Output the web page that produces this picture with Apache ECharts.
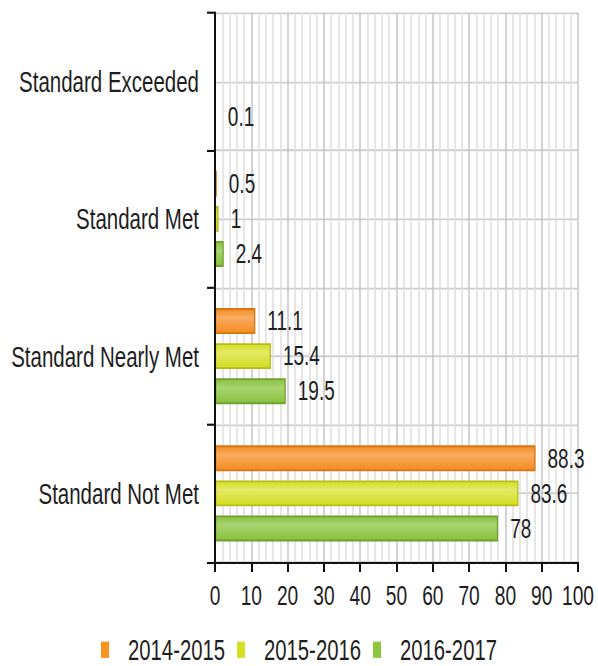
<!DOCTYPE html>
<html>
<head>
<meta charset="utf-8">
<script src="https://cdn.jsdelivr.net/npm/echarts@6/dist/echarts.min.js"></script>
<style>
  html, body { margin: 0; padding: 0; background: #fff; width: 598px; height: 666px; }
  #frame { position: relative; width: 598px; height: 666px; }
  /* the chart is laid out on a shorter canvas and stretched to full height,
     giving the tall, narrow lettering of the original graphic */
  #chart { position: absolute; left: 0; top: 0; width: 598px; height: 472px;
           transform: scaleY(1.4110); transform-origin: 0 0; }
</style>
</head>
<body>
<div id="frame"><div id="chart"></div></div>
<script>
// Performance levels, listed top to bottom
const categories = ['Standard Exceeded', 'Standard Met', 'Standard Nearly Met', 'Standard Not Met'];
const years = ['2014-2015', '2015-2016', '2016-2017'];
// Percent of students at each level, per school year
const values2014 = [0, 0.5, 11.1, 88.3];
const values2015 = [0, 1, 15.4, 83.6];
const values2016 = [0.1, 2.4, 19.5, 78];
const xTicks = [0, 10, 20, 30, 40, 50, 60, 70, 80, 90, 100];

const FONT = '"Liberation Sans", Arial, sans-serif';
const TEXT = '#1e1e1e';

// base colour, light highlight, darker outline
const palette = [
  ['#f48a1f', '#f9ad62', '#d97614'],
  ['#d3dc22', '#e3ea66', '#b4bc16'],
  ['#88c03f', '#a9d470', '#6fa22e']
];
const legendColors = ['#f7931e', '#d7df23', '#8dc63f'];

function barFill(p) {
  return new echarts.graphic.LinearGradient(0, 0, 0, 1, [
    { offset: 0, color: p[0] },
    { offset: 0.35, color: p[1] },
    { offset: 1, color: p[0] }
  ]);
}

const seriesValues = [values2014, values2015, values2016];

const chart = echarts.init(document.getElementById('chart'), null, { renderer: 'svg' });

chart.setOption({
  animation: false,
  backgroundColor: '#ffffff',
  textStyle: { fontFamily: FONT },
  grid: { left: 215, right: 20, top: 9.2, bottom: 73.7, containLabel: false },
  legend: {
    top: 445.5,
    left: 96,
    data: years.map((y, i) => ({ name: y, itemStyle: { color: legendColors[i], borderWidth: 0 } })),
    icon: 'rect',
    itemWidth: 8,
    itemHeight: 11.5,
    itemGap: 12,
    textStyle: { fontFamily: FONT, fontSize: 20.3, color: TEXT, padding: [0, 0, 0, 14] }
  },
  xAxis: {
    type: 'value',
    min: 0,
    max: 100,
    interval: 10,
    axisLine: { show: true, onZero: false, lineStyle: { color: '#111', width: 1.5 } },
    axisTick: { show: true, length: 7, lineStyle: { color: '#111', width: 2 } },
    axisLabel: {
      margin: 14.5,
      fontFamily: FONT,
      fontSize: 19.2,
      color: TEXT,
      formatter: v => (xTicks.indexOf(v) >= 0 ? String(v) : '')
    },
    splitLine: { show: true, lineStyle: { color: '#c4c4c4', width: 1.5 } },
    minorTick: { show: false, splitNumber: 5 },
    minorSplitLine: { show: true, lineStyle: { color: '#dedede', width: 1.5 } }
  },
  yAxis: [
    {
      type: 'category',
      inverse: true,
      data: categories,
      axisLine: { show: true, onZero: false, lineStyle: { color: '#111', width: 2 } },
      axisTick: { show: true, length: 8, lineStyle: { color: '#111', width: 1.5 } },
      axisLabel: { margin: 16, fontFamily: FONT, fontSize: 20.5, color: TEXT },
      splitLine: { show: false },
      z: 3
    },
    {
      // half-band guide lines behind the bars
      type: 'value',
      inverse: true,
      min: 0,
      max: 8,
      interval: 1,
      axisLine: { show: false },
      axisTick: { show: false },
      axisLabel: { show: false },
      splitLine: { show: true, lineStyle: { color: '#cdcdcd', width: 1.3 } }
    }
  ],
  series: years.map((name, i) => ({
    name: name,
    type: 'bar',
    yAxisIndex: 0,
    data: seriesValues[i],
    barWidth: 18.4,
    barGap: '35%',
    itemStyle: {
      color: barFill(palette[i]),
      borderColor: palette[i][2],
      borderWidth: 1.3
    },
    label: {
      show: true,
      position: 'right',
      distance: 12,
      fontFamily: FONT,
      fontSize: 19,
      color: TEXT,
      formatter: p => (p.value === 0 ? '' : String(p.value))
    }
  }))
});
</script>
</body>
</html>
